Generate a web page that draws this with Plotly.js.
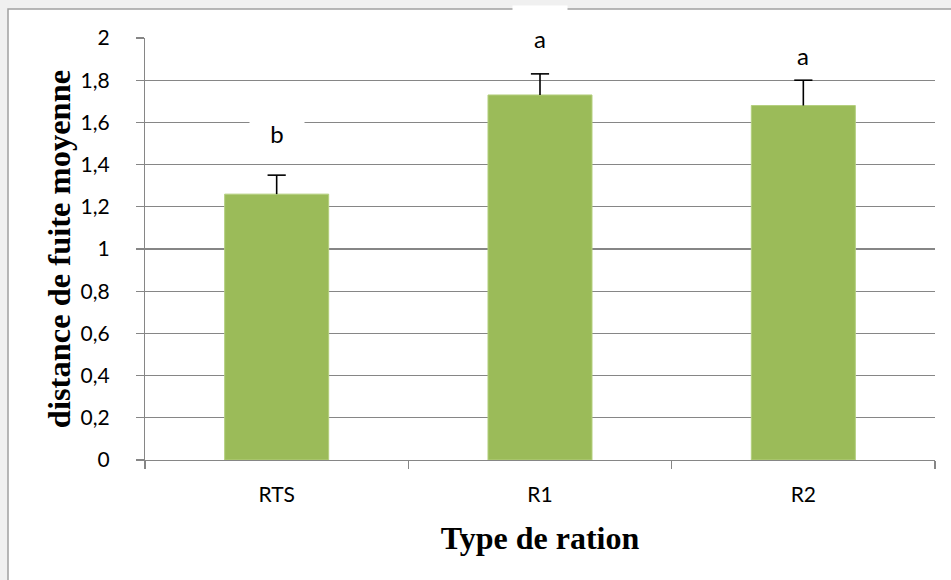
<!DOCTYPE html>
<html>
<head>
<meta charset="utf-8">
<script src="https://cdn.plot.ly/plotly-3.0.1.min.js"></script>
<style>
  html, body { margin: 0; padding: 0; background: #f0f0f0; }
  #chart { width: 951px; height: 580px; }
</style>
</head>
<body>
<div id="chart"></div>
<script>
// ---- data ----
const categories = ["RTS", "R1", "R2"];
const means = [1.26, 1.73, 1.68];
const errUpper = [0.09, 0.10, 0.12];
const groupLetters = ["b", "a", "a"];
const letterY = [1.54, 1.99, 1.91];

const xTitle = "Type de ration";
const yTitle = "distance de fuite moyenne";

// ---- layout geometry ----
const W = 951, H = 580;
const M = { l: 145, r: 16, t: 38, b: 120 };
const pw = W - M.l - M.r, ph = H - M.t - M.b;
const px2x = p => (p - M.l) / pw;
const py2y = p => (H - M.b - p) / ph;

const bars = {
  type: "bar",
  x: categories,
  y: means,
  width: 0.395,
  marker: { color: "#9bbb59", line: { color: "#b4cf7e", width: 1 } },
  hoverinfo: "none"
};

// upper-only error bars: whisker from the bar top up, cap drawn as a marker at the top
const errTops = means.map((m, i) => m + errUpper[i]);
const whiskers = {
  type: "scatter",
  mode: "markers",
  x: categories,
  y: errTops,
  marker: { symbol: "line-ew", size: 13, color: "#000", line: { color: "#000", width: 1.6 } },
  error_y: {
    type: "data",
    symmetric: false,
    array: errUpper.map(() => 0),
    arrayminus: errUpper,
    color: "#000000",
    thickness: 1.6,
    width: 0
  },
  cliponaxis: false,
  hoverinfo: "none"
};

const annotations = categories.map((c, i) => ({
  x: c, y: letterY[i], xref: "x", yref: "y",
  text: groupLetters[i],
  showarrow: false,
  font: { family: "Lato, 'Open Sans', sans-serif", size: 24, color: "#000" },
  bgcolor: "#ffffff",
  width: 52, height: 46,
  valign: "bottom",
  yshift: 10
}));

const layout = {
  width: W, height: H,
  margin: M,
  paper_bgcolor: "#f0f0f0",
  plot_bgcolor: "rgba(0,0,0,0)",
  separators: ", ",
  showlegend: false,
  font: { family: "Lato, sans-serif", color: "#000" },
  xaxis: {
    type: "category",
    showgrid: false,
    showline: true, linecolor: "#868686", linewidth: 1.2,
    ticks: "outside", tickson: "boundaries", ticklen: 8, tickcolor: "#868686", tickwidth: 1.2,
    tickfont: { family: "Lato, sans-serif", size: 21, color: "#000" },
    ticklabelstandoff: 16,
    title: { text: xTitle, font: { family: "'Liberation Serif', 'Times New Roman', serif", size: 32, weight: 700, color: "#000" }, standoff: 21 },
    fixedrange: true
  },
  yaxis: {
    range: [0, 2],
    dtick: 0.2,
    tick0: 0,
    showgrid: true, gridcolor: "#868686", gridwidth: 1.2,
    zeroline: false,
    showline: true, linecolor: "#868686", linewidth: 1.2,
    ticks: "outside", ticklen: 8, tickcolor: "#868686", tickwidth: 1.2,
    tickfont: { family: "Lato, sans-serif", size: 21, color: "#000" },
    ticklabelstandoff: 22,
    title: { text: yTitle, font: { family: "'Liberation Serif', 'Times New Roman', serif", size: 32.5, weight: 700, color: "#000" }, standoff: 0 },
    fixedrange: true
  },
  shapes: [{
    type: "rect", xref: "paper", yref: "paper", layer: "below",
    x0: px2x(8), x1: px2x(960), y0: py2y(590), y1: py2y(9),
    fillcolor: "#ffffff",
    line: { color: "#a0a0a0", width: 1.5 }
  }],
  annotations: annotations
};

Plotly.newPlot("chart", [bars, whiskers], layout, { displayModeBar: false, staticPlot: true });
</script>
</body>
</html>
